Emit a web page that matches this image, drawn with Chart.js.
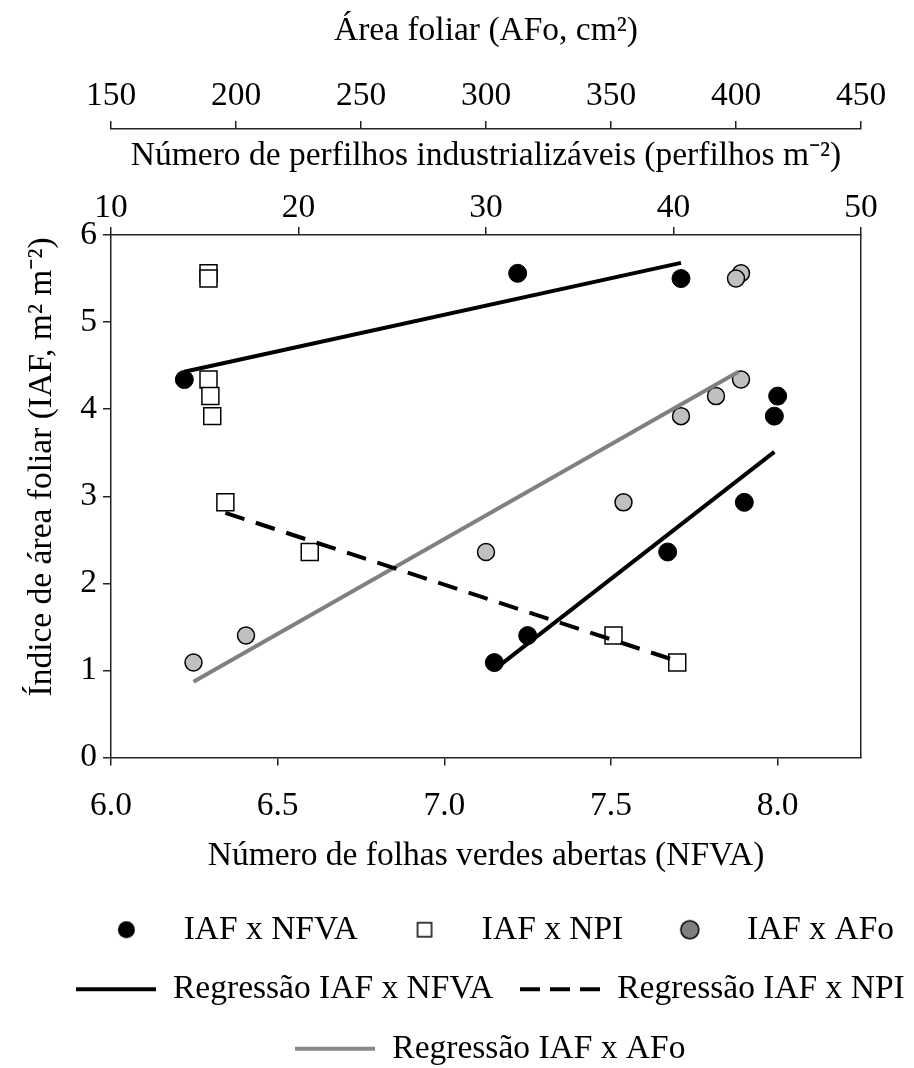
<!DOCTYPE html>
<html>
<head>
<meta charset="utf-8">
<script src="https://cdn.jsdelivr.net/npm/chart.js@4.4.1/dist/chart.umd.min.js"></script>
<style>
  html, body { margin: 0; padding: 0; background: #fff; }
</style>
</head>
<body>
<canvas id="myChart" width="914" height="1068"></canvas>
<script>
// IAF (leaf area index), shared by the three scatter series
var iaf = [5.56, 5.50, 4.34, 4.15, 3.92, 2.93, 2.36, 1.40, 1.09];
// x values of each series, same order as iaf
var nfva = [7.22, 7.71, 6.22, 8.00, 7.99, 7.90, 7.67, 7.25, 7.15];
var npi = [15.2, 15.2, 15.2, 15.3, 15.4, 16.1, 20.6, 36.8, 40.2];
var afo = [402, 400, 402, 392, 378, 355, 300, 204, 183];

// regression lines (end points)
var regNfvaX = [6.22, 7.71], regNfvaY = [4.43, 5.68];
var regNfvaX2 = [7.17, 7.99], regNfvaY2 = [1.07, 3.51];
var regNpiX = [16.1, 40.3], regNpiY = [2.81, 1.10];
var regAfoX = [183, 401], regAfoY = [0.87, 4.43];

// tick labels
var nfvaTicks = [6.0, 6.5, 7.0, 7.5, 8.0];
var npiTicks = [10, 20, 30, 40, 50];
var afoTicks = [150, 200, 250, 300, 350, 400, 450];
var iafTicks = [0, 1, 2, 3, 4, 5, 6];

function pts(xs, ys) {
    return xs.map(function (x, i) { return { x: x, y: ys[i] }; });
}

function setTicks(values) {
    return function (scale) {
        scale.ticks = values.map(function (v) { return { value: v }; });
    };
}

// small canvases used as legend symbols
function mark(w, h, draw) {
    var c = document.createElement('canvas');
    c.width = w;
    c.height = h;
    draw(c.getContext('2d'), w, h);
    return c;
}
function dot(fill, r, lw) {
    return mark(2 * r + 4, 2 * r + 4, function (g, w, h) {
        g.beginPath();
        g.arc(w / 2, h / 2, r, 0, Math.PI * 2);
        g.fillStyle = fill;
        g.fill();
        if (lw) { g.lineWidth = lw; g.strokeStyle = '#000'; g.stroke(); }
    });
}
function box(s) {
    return mark(s + 4, s + 4, function (g) {
        g.fillStyle = '#fff';
        g.fillRect(2, 2, s, s);
        g.lineWidth = 1.5;
        g.strokeStyle = '#000';
        g.strokeRect(2, 2, s, s);
    });
}
function seg(color, dash) {
    return mark(80, 6, function (g, w, h) {
        g.strokeStyle = color;
        g.lineWidth = 4;
        g.setLineDash(dash);
        g.beginPath();
        g.moveTo(0, h / 2);
        g.lineTo(w, h / 2);
        g.stroke();
    });
}

var legendMarks = [
    dot('#000', 8.5, 0),
    box(14),
    dot('#808080', 9, 1.5),
    seg('#000', []),
    seg('#000', [20, 10]),
    seg('#888', []),
    null
];

var datasets = [
    { label: 'IAF x NFVA', data: pts(nfva, iaf), xAxisID: 'x', yAxisID: 'y',
      pointStyle: 'circle', pointRadius: 9, backgroundColor: '#000', borderColor: '#000', pointBorderWidth: 1, order: 1 },
    { label: 'IAF x NPI', data: pts(npi, iaf), xAxisID: 'xNPI', yAxisID: 'y',
      pointStyle: 'rect', pointRadius: 12, backgroundColor: '#fff', borderColor: '#000', pointBorderWidth: 1.5, order: 1 },
    { label: 'IAF x AFo', data: pts(afo, iaf), xAxisID: 'xAFo', yAxisID: 'y',
      pointStyle: 'circle', pointRadius: 8.5, backgroundColor: '#c0c0c0', borderColor: '#000', pointBorderWidth: 1.5, order: 1 },
    { label: 'Regressão IAF x NFVA', data: pts(regNfvaX, regNfvaY), xAxisID: 'x', yAxisID: 'y',
      showLine: true, pointRadius: 0, borderColor: '#000', borderWidth: 4, order: 0 },
    { label: 'Regressão IAF x NPI', data: pts(regNpiX, regNpiY), xAxisID: 'xNPI', yAxisID: 'y',
      showLine: true, pointRadius: 0, borderColor: '#000', borderWidth: 4, borderDash: [20, 12], order: 0 },
    { label: 'Regressão IAF x AFo', data: pts(regAfoX, regAfoY), xAxisID: 'xAFo', yAxisID: 'y',
      showLine: true, pointRadius: 0, borderColor: '#808080', borderWidth: 4, order: 0 },
    { label: 'Regressão IAF x NFVA 2', data: pts(regNfvaX2, regNfvaY2), xAxisID: 'x', yAxisID: 'y',
      showLine: true, pointRadius: 0, borderColor: '#000', borderWidth: 4, order: 0 }
];

Chart.defaults.font.family = "'Liberation Serif', 'Times New Roman', serif";
Chart.defaults.font.size = 33.5;
Chart.defaults.color = '#000';

var grid = { display: true, drawOnChartArea: false, drawTicks: true, tickLength: 8, color: '#222', lineWidth: 1.5 };
var border = { display: true, color: '#222', width: 1.5 };

var ctx = document.getElementById('myChart').getContext('2d');
var myChart = new Chart(ctx, {
    type: 'scatter',
    data: { datasets: datasets },
    options: {
        responsive: false,
        animation: false,
        events: [],
        layout: { padding: { top: 0, left: 0, right: -66, bottom: -7.5 } },
        plugins: {
            tooltip: { enabled: false },
            legend: {
                position: 'bottom',
                labels: {
                    usePointStyle: true,
                    pointStyleWidth: 81,
                    padding: 26,
                    font: { size: 33.5 },
                    generateLabels: function (chart) {
                        return chart.data.datasets.map(function (ds, i) {
                            return { text: ds.label, pointStyle: legendMarks[i], datasetIndex: i,
                                     hidden: false, lineWidth: 0, fillStyle: '#000', strokeStyle: '#000', fontColor: '#000' };
                        }).filter(function (item, i) { return legendMarks[i]; });
                    }
                }
            }
        },
        scales: {
            x: {
                type: 'linear', position: 'bottom', min: 6, max: 8.25,
                afterBuildTicks: setTicks(nfvaTicks),
                afterFit: function (s) { s.height = 129.5; },
                ticks: { padding: 21, maxRotation: 0, minRotation: 0, autoSkip: false,
                         callback: function (v) { return v.toFixed(1); } },
                grid: grid, border: border,
                title: { display: true, text: 'Número de folhas verdes abertas (NFVA)', padding: { top: 0, bottom: 11 } }
            },
            xNPI: {
                type: 'linear', position: 'top', weight: 1, min: 10, max: 50,
                afterBuildTicks: setTicks(npiTicks),
                afterFit: function (s) { s.height = 106; },
                ticks: { padding: -1, maxRotation: 0, minRotation: 0, autoSkip: false },
                grid: grid, border: border,
                title: { display: true, text: 'Número de perfilhos industrializáveis (perfilhos m⁻²)', padding: { top: 7, bottom: 0 } }
            },
            xAFo: {
                type: 'linear', position: 'top', weight: 2, min: 150, max: 450,
                afterBuildTicks: setTicks(afoTicks),
                afterFit: function (s) { s.height = 129; },
                ticks: { padding: 5, maxRotation: 0, minRotation: 0, autoSkip: false },
                grid: grid, border: border,
                title: { display: true, text: 'Área foliar (AFo, cm²)', padding: { top: 11, bottom: 0 } }
            },
            y: {
                type: 'linear', position: 'left', min: 0, max: 6,
                afterBuildTicks: setTicks(iafTicks),
                afterFit: function (s) { s.width = 111; },
                ticks: { padding: 6, autoSkip: false },
                grid: grid, border: border,
                title: { display: true, text: '       Índice de área foliar (IAF, m² m⁻²)', padding: { top: 22, bottom: 0 } }
            },
            yR: {
                type: 'linear', position: 'right', min: 0, max: 6,
                afterFit: function (s) { s.width = 119; },
                ticks: { display: false },
                grid: { display: true, drawOnChartArea: false, drawTicks: false },
                border: border
            }
        }
    }
});
</script>
</body>
</html>
